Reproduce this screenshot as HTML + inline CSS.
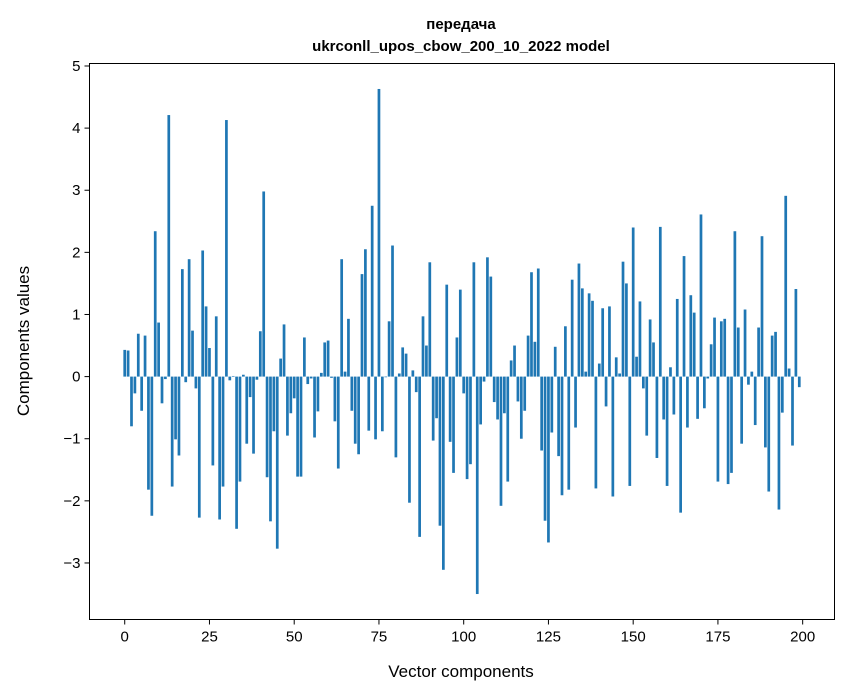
<!DOCTYPE html>
<html><head><meta charset="utf-8">
<style>
html,body{margin:0;padding:0;background:#fff;}
svg{display:block;font-family:"Liberation Sans","DejaVu Sans",sans-serif;}
</style></head>
<body>
<svg id="chart" width="847" height="696" viewBox="0 0 847 696" xmlns="http://www.w3.org/2000/svg">
  <rect x="0" y="0" width="847" height="696" fill="#fff"/>
  <text x="461" y="29" text-anchor="middle" font-size="15" font-weight="bold">передача</text>
  <text x="461" y="51" text-anchor="middle" font-size="15" font-weight="bold">ukrconll_upos_cbow_200_10_2022 model</text>
  <g id="bars"></g>
  <g id="xticks"></g>
  <g id="yticks"></g>
  <rect x="89.5" y="63.5" width="745" height="556" fill="none" stroke="#000" stroke-width="1"/>
  <text x="461" y="677" text-anchor="middle" font-size="17">Vector components</text>
  <text x="0" y="0" transform="translate(29,341) rotate(-90)" text-anchor="middle" font-size="17">Components values</text>
</svg>
<script>
const values = [0.43,0.42,-0.8,-0.27,0.69,-0.55,0.66,-1.82,-2.24,2.34,
0.87,-0.43,-0.04,4.21,-1.77,-1.01,-1.27,1.73,-0.09,1.89,
0.74,-0.19,-2.27,2.03,1.13,0.46,-1.43,0.97,-2.3,-1.77,
4.13,-0.06,0.01,-2.45,-1.69,0.03,-1.08,-0.33,-1.24,-0.05,
0.73,2.98,-1.62,-2.33,-0.88,-2.77,0.29,0.84,-0.95,-0.59,
-0.35,-1.61,-1.61,0.63,-0.12,-0.03,-0.98,-0.56,0.06,0.55,
0.58,-0.02,-0.72,-1.48,1.89,0.08,0.93,-0.55,-1.08,-1.25,
1.65,2.05,-0.87,2.75,-1.01,4.63,-0.88,-0.01,0.89,2.11,
-1.3,0.05,0.47,0.37,-2.03,0.1,-0.25,-2.58,0.97,0.5,
1.84,-1.03,-0.67,-2.4,-3.11,1.48,-1.05,-1.55,0.63,1.4,
-0.27,-1.65,-1.41,1.84,-3.5,-0.77,-0.08,1.92,1.61,-0.41,
-0.69,-2.08,-0.59,-1.69,0.26,0.5,-0.4,-1.0,-0.55,0.66,
1.68,0.56,1.74,-1.19,-2.32,-2.67,-0.9,0.48,-1.28,-1.91,
0.81,-1.82,1.56,-0.82,1.82,1.42,0.08,1.34,1.22,-1.8,
0.21,1.1,-0.48,1.13,-1.93,0.31,0.05,1.85,1.5,-1.76,
2.4,0.32,1.21,-0.19,-0.95,0.92,0.55,-1.31,2.41,-0.69,
-1.76,0.15,-0.61,1.25,-2.19,1.94,-0.82,1.31,1.03,-0.68,
2.61,-0.51,-0.03,0.52,0.95,-1.69,0.89,0.93,-1.73,-1.55,
2.34,0.79,-1.08,1.08,-0.13,0.08,-0.78,0.79,2.26,-1.14,
-1.85,0.66,0.72,-2.14,-0.58,2.91,0.13,-1.11,1.41,-0.17];
const xTickLabels = [0,25,50,75,100,125,150,175,200];
const yTickLabels = [-3,-2,-1,0,1,2,3,4,5];

const NS = "http://www.w3.org/2000/svg";
const L = 89.5, R = 834.5, T = 63.5, B = 619.5;
const xMin = -10.39, xMax = 209.39, yMin = -3.91, yMax = 5.04;
function xScale(v){ return L + (v - xMin) / (xMax - xMin) * (R - L); }
function yScale(v){ return T + (yMax - v) / (yMax - yMin) * (B - T); }

const barsG = document.getElementById('bars');
values.forEach(function(v, i){
  const r = document.createElementNS(NS, 'rect');
  const x0 = xScale(i - 0.4), x1 = xScale(i + 0.4);
  const y0 = yScale(Math.max(v, 0)), y1 = yScale(Math.min(v, 0));
  r.setAttribute('x', x0);
  r.setAttribute('y', y0);
  r.setAttribute('width', x1 - x0);
  r.setAttribute('height', Math.max(y1 - y0, 0.3));
  r.setAttribute('fill', '#1f77b4');
  
  
  barsG.appendChild(r);
});

const xg = document.getElementById('xticks');
xTickLabels.forEach(function(t){
  const x = xScale(t);
  const ln = document.createElementNS(NS, 'line');
  ln.setAttribute('x1', x); ln.setAttribute('x2', x);
  ln.setAttribute('y1', B); ln.setAttribute('y2', B + 5);
  ln.setAttribute('stroke', '#000');
  
  
  xg.appendChild(ln);
  const tx = document.createElementNS(NS, 'text');
  tx.setAttribute('x', x); tx.setAttribute('y', B + 22);
  tx.setAttribute('text-anchor', 'middle');
  tx.setAttribute('font-size', '15');
  tx.textContent = t;
  
  
  xg.appendChild(tx);
});

const yg = document.getElementById('yticks');
yTickLabels.forEach(function(t){
  const y = yScale(t);
  const ln = document.createElementNS(NS, 'line');
  ln.setAttribute('x1', L - 5); ln.setAttribute('x2', L);
  ln.setAttribute('y1', y); ln.setAttribute('y2', y);
  ln.setAttribute('stroke', '#000');
  
  
  yg.appendChild(ln);
  const tx = document.createElementNS(NS, 'text');
  tx.setAttribute('x', L - 9); tx.setAttribute('y', y + 5);
  tx.setAttribute('text-anchor', 'end');
  tx.setAttribute('font-size', '15');
  tx.textContent = t < 0 ? '\u2212' + Math.abs(t) : String(t);
  
  
  yg.appendChild(tx);
});
</script>
</body></html>
